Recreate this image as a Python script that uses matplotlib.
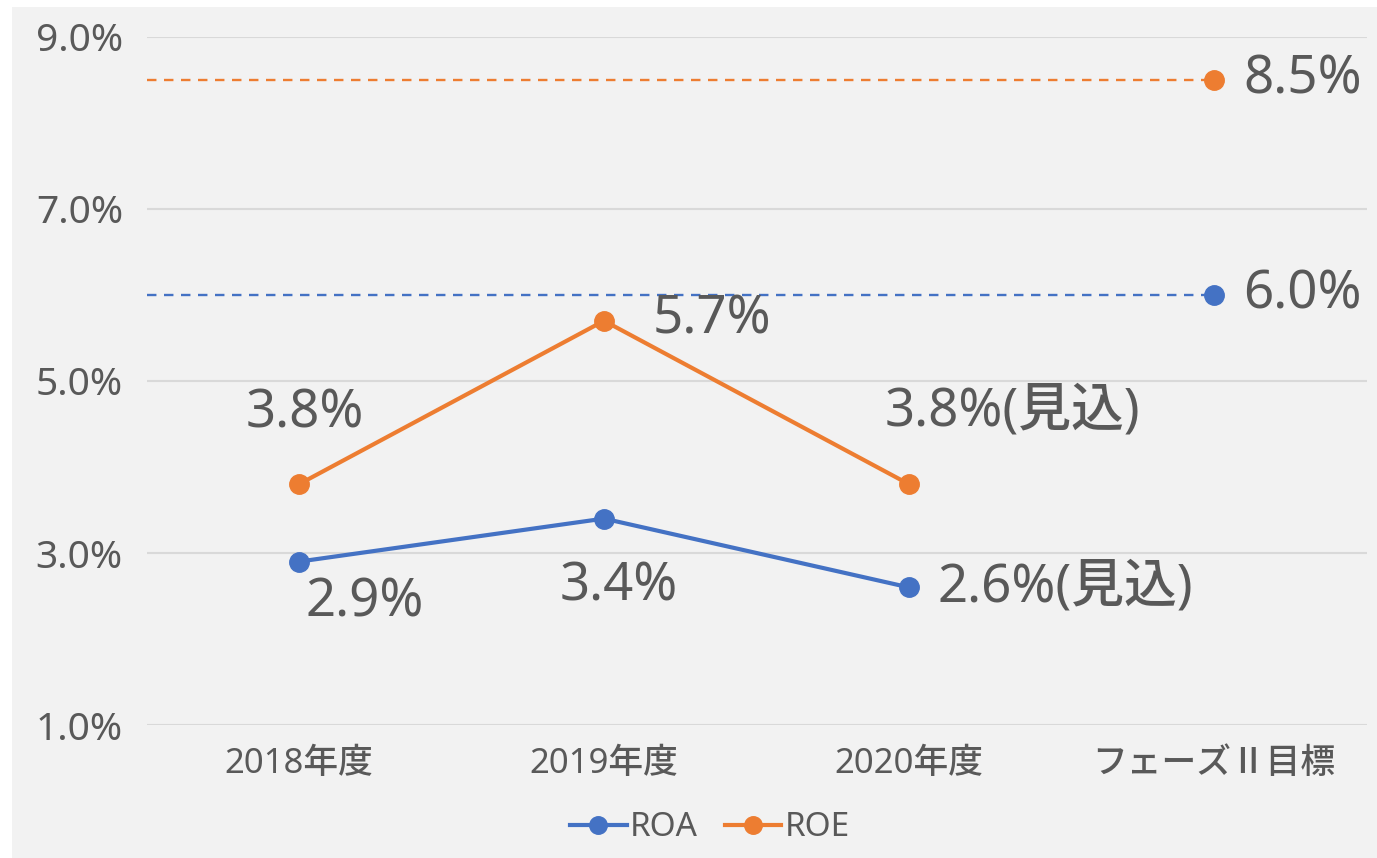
import matplotlib.pyplot as plt
from matplotlib.patches import Rectangle

plt.rcParams['font.family'] = ['Noto Sans', 'Noto Sans CJK JP', 'DejaVu Sans']
plt.rcParams['font.weight'] = 'medium'

categories = ['2018年度', '2019年度', '2020年度', 'フェーズⅡ目標']
roa = [2.9, 3.4, 2.6]
roe = [3.8, 5.7, 3.8]
roa_target = 6.0
roe_target = 8.5
roa_labels = ['2.9%', '3.4%', '2.6%(見込)']
roe_labels = ['3.8%', '5.7%', '3.8%(見込)']
yticks = [1.0, 3.0, 5.0, 7.0, 9.0]

blue = '#4472C4'
orange = '#ED7D31'
grey_text = '#595959'
bg = '#F2F2F2'

fig = plt.figure(figsize=(13.77, 8.58), dpi=100)
fig.patches.append(Rectangle((12 / 1377, 0), 1, 1 - 7 / 858, transform=fig.transFigure,
                             facecolor=bg, edgecolor='none', zorder=-10))
ax = fig.add_axes([146.5 / 1377, 1 - 725 / 858, 1220 / 1377, 688 / 858])
ax.set_facecolor(bg)

x = list(range(len(roa)))
tx = len(categories) - 1

# target dashed lines
ax.plot([-0.5, tx], [roe_target, roe_target], color=orange, lw=1.7, dashes=(4, 3.2), zorder=2)
ax.plot([-0.5, tx], [roa_target, roa_target], color=blue, lw=1.7, dashes=(4, 3.2), zorder=2)
ax.plot([tx], [roe_target], 'o', color=orange, ms=14, zorder=3)
ax.plot([tx], [roa_target], 'o', color=blue, ms=14, zorder=3)

l1, = ax.plot(x, roa, '-o', color=blue, lw=3, ms=14, label='ROA', zorder=3)
l2, = ax.plot(x, roe, '-o', color=orange, lw=3, ms=14, label='ROE', zorder=3)

lab_kw = dict(textcoords='offset pixels', fontsize=38, color=grey_text, va='center')
# ROE labels
ax.annotate(roe_labels[0], (0, roe[0]), xytext=(6, 70), ha='center', **lab_kw)
ax.annotate(roe_labels[1], (1, roe[1]), xytext=(49, 1), ha='left', **lab_kw)
ax.annotate(roe_labels[2], (2, roe[2]), xytext=(-24, 72), ha='left', **lab_kw)
# ROA labels
ax.annotate(roa_labels[0], (0, roa[0]), xytext=(66, -41), ha='center', **lab_kw)
ax.annotate(roa_labels[1], (1, roa[1]), xytext=(15, -68), ha='center', **lab_kw)
ax.annotate(roa_labels[2], (2, roa[2]), xytext=(29, -1), ha='left', **lab_kw)
# targets
ax.annotate(f'{roe_target:.1f}%', (tx, roe_target), xytext=(29, 0), ha='left', **lab_kw)
ax.annotate(f'{roa_target:.1f}%', (tx, roa_target), xytext=(29, 0), ha='left', **lab_kw)

ax.set_xlim(-0.5, len(categories) - 0.5)
ax.set_ylim(1.0, 9.0)
ax.set_yticks(yticks)
ax.set_yticklabels([f'{v:.1f}%' for v in yticks])
ax.set_xticks(range(len(categories)))
ax.set_xticklabels(categories)
ax.tick_params(axis='both', length=0, labelcolor=grey_text)
ax.tick_params(axis='y', pad=17, labelsize=28)
ax.tick_params(axis='x', pad=16, labelsize=25)
ax.grid(axis='y', color='#D9D9D9', lw=1.5, zorder=0)
ax.set_axisbelow(True)
for s in ax.spines.values():
    s.set_visible(False)

fig.legend(handles=[l1, l2], loc='center', bbox_to_anchor=(710 / 1377, 1 - 828 / 858),
           ncol=2, frameon=False, fontsize=24, labelcolor=grey_text,
           handlelength=1.7, handletextpad=0.1, columnspacing=0.8, markerscale=0.9)

fig.savefig('out.png', dpi=100)
